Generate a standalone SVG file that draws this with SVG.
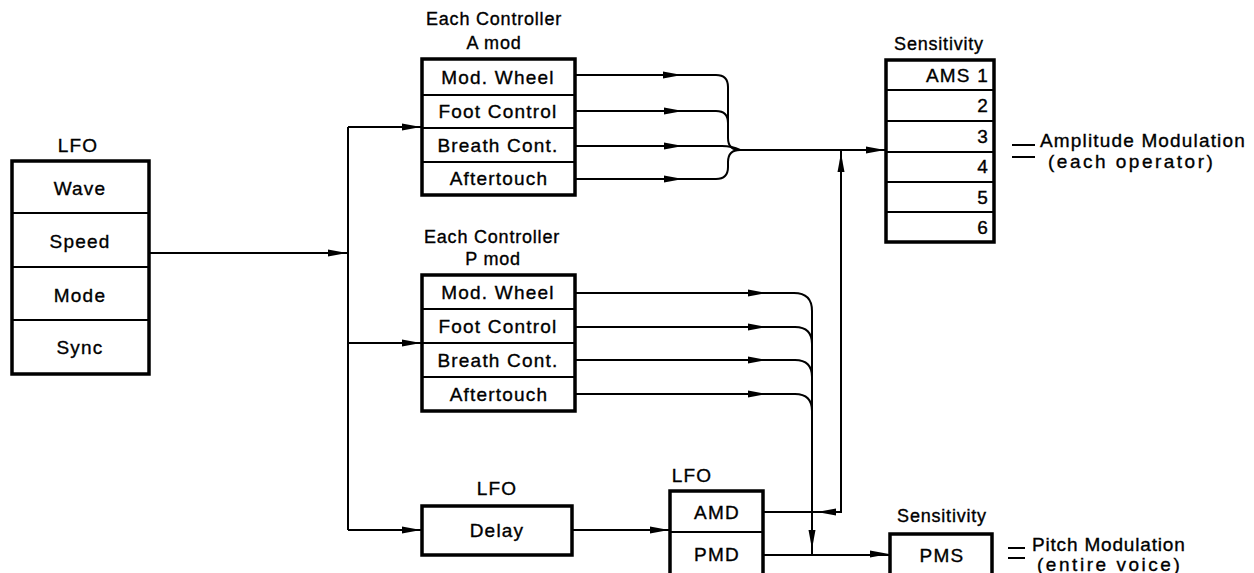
<svg xmlns="http://www.w3.org/2000/svg" xmlns:xlink="http://www.w3.org/1999/xlink" width="1254" height="573" viewBox="0 0 1254 573">
<style>
.t{font-family:"Liberation Sans",Arial,Helvetica,sans-serif;font-size:19px;letter-spacing:1.2px;fill:#000;stroke:#000;stroke-width:0.35}
.s{font-size:18px;letter-spacing:0.8px}
.m{text-anchor:middle}
.e{text-anchor:end}
.box{fill:#fff;stroke:#000;stroke-width:3.5}
.div{stroke:#000;stroke-width:2;fill:none}
.ln{stroke:#000;stroke-width:2;fill:none}
.eq{stroke:#000;stroke-width:2}
</style>
<defs>
<path id="ar" d="M-19,-3.5 L0,0 L-19,3.5 Z" fill="#000"/>
</defs>
<rect width="1254" height="573" fill="#fff"/>

<g id="connectors">
<path class="ln" d="M149,253 H348"/>
<path class="ln" d="M348,127 V530"/>
<path class="ln" d="M348,127 H422"/>
<path class="ln" d="M348,343 H422"/>
<path class="ln" d="M348,530 H422"/>
<path class="ln" d="M575,75 H716 Q728,75 728,87 V138 Q728,150 740,150"/>
<path class="ln" d="M575,111 H716 Q728,111 728,123"/>
<path class="ln" d="M575,146 H722 Q732,146 740,150"/>
<path class="ln" d="M575,179 H716 Q728,179 728,167 V162 Q728,150 740,150"/>
<path class="ln" d="M740,150 H886"/>
<path class="ln" d="M575,293 H794 Q812,293 812,311 V555"/>
<path class="ln" d="M575,327 H795 Q812,327 812,344"/>
<path class="ln" d="M575,360 H795 Q812,360 812,377"/>
<path class="ln" d="M575,394 H795 Q812,394 812,411"/>
<path class="ln" d="M572,530 H670"/>
<path class="ln" d="M763,512 H841 V150"/>
<path class="ln" d="M763,555 H890"/>
<use xlink:href="#ar" transform="translate(347,253)"/>
<use xlink:href="#ar" transform="translate(421,127)"/>
<use xlink:href="#ar" transform="translate(421,343)"/>
<use xlink:href="#ar" transform="translate(421,530)"/>
<use xlink:href="#ar" transform="translate(682,75)"/>
<use xlink:href="#ar" transform="translate(683,111)"/>
<use xlink:href="#ar" transform="translate(683,146)"/>
<use xlink:href="#ar" transform="translate(683,179)"/>
<use xlink:href="#ar" transform="translate(885,150)"/>
<use xlink:href="#ar" transform="translate(841,153) rotate(-90)"/>
<use xlink:href="#ar" transform="translate(767,293)"/>
<use xlink:href="#ar" transform="translate(767,327)"/>
<use xlink:href="#ar" transform="translate(767,360)"/>
<use xlink:href="#ar" transform="translate(767,394)"/>
<use xlink:href="#ar" transform="translate(669,530)"/>
<use xlink:href="#ar" transform="translate(817,512) rotate(180)"/>
<use xlink:href="#ar" transform="translate(812,549) rotate(90)"/>
<use xlink:href="#ar" transform="translate(889,554)"/>
</g>

<g id="lfo">
<text class="t m" x="78" y="152">LFO</text>
<rect class="box" x="12" y="161" width="137" height="213"/>
<path class="div" d="M12,213 H149 M12,267 H149 M12,320 H149"/>
<text class="t m" x="80" y="195">Wave</text>
<text class="t m" x="80" y="248">Speed</text>
<text class="t m" x="80" y="302">Mode</text>
<text class="t m" x="80" y="354">Sync</text>
</g>

<g id="amod">
<text class="t s m" x="494" y="25">Each Controller</text>
<text class="t s m" x="494" y="49">A mod</text>
<rect class="box" x="422" y="59" width="153" height="136"/>
<path class="div" d="M422,95 H575 M422,128 H575 M422,162 H575"/>
<text class="t m" x="498" y="84">Mod. Wheel</text>
<text class="t m" x="498" y="118">Foot Control</text>
<text class="t m" x="498" y="152">Breath Cont.</text>
<text class="t m" x="499" y="185">Aftertouch</text>
</g>

<g id="pmod">
<text class="t s m" x="492" y="243">Each Controller</text>
<text class="t s m" x="493" y="265">P mod</text>
<rect class="box" x="422" y="275" width="153" height="136"/>
<path class="div" d="M422,309 H575 M422,343 H575 M422,377 H575"/>
<text class="t m" x="498" y="299">Mod. Wheel</text>
<text class="t m" x="498" y="333">Foot Control</text>
<text class="t m" x="498" y="367">Breath Cont.</text>
<text class="t m" x="499" y="401">Aftertouch</text>
</g>

<g id="delay">
<text class="t m" x="497" y="495">LFO</text>
<rect class="box" x="422" y="506" width="150" height="49"/>
<text class="t m" x="497" y="537">Delay</text>
</g>

<g id="lfo-depth">
<text class="t m" x="692" y="482">LFO</text>
<rect class="box" x="670" y="491" width="93" height="95"/>
<path class="div" d="M670,532 H763"/>
<text class="t m" x="717" y="519">AMD</text>
<text class="t m" x="717" y="561">PMD</text>
</g>

<g id="ams">
<text class="t s m" x="939" y="50">Sensitivity</text>
<rect class="box" x="886" y="60" width="108" height="182"/>
<path class="div" d="M886,90 H994 M886,121 H994 M886,152 H994 M886,182 H994 M886,212 H994"/>
<text class="t e" x="989" y="82">AMS 1</text>
<text class="t e" x="989" y="112">2</text>
<text class="t e" x="989" y="143">3</text>
<text class="t e" x="989" y="173">4</text>
<text class="t e" x="989" y="204">5</text>
<text class="t e" x="989" y="234">6</text>
</g>

<g id="ams-note">
<path class="eq" d="M1012,145 H1035 M1012,157 H1035"/>
<text class="t" x="1040" y="147" textLength="206">Amplitude Modulation</text>
<text class="t" x="1048" y="168" textLength="166">(each operator)</text>
</g>

<g id="pms">
<text class="t s m" x="942" y="522">Sensitivity</text>
<rect class="box" x="890" y="534" width="102" height="52"/>
<text class="t m" x="942" y="562">PMS</text>
</g>

<g id="pms-note">
<path class="eq" d="M1008,548 H1025 M1008,558 H1025"/>
<text class="t" x="1032" y="551" textLength="154">Pitch Modulation</text>
<text class="t" x="1037" y="571" textLength="144">(entire voice)</text>
</g>
</svg>
